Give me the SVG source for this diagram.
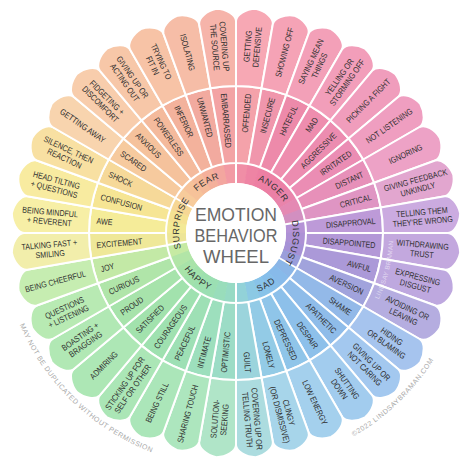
<svg xmlns="http://www.w3.org/2000/svg" width="474" height="469" viewBox="0 0 474 469">
<style>
.t{font-family:"Liberation Sans",Arial,sans-serif;font-size:8.5px;fill:#2f2f2f;text-anchor:middle}
.e{text-anchor:end}
.s{text-anchor:start}
.k{font-family:"Liberation Sans",Arial,sans-serif;font-size:9px;fill:#333;letter-spacing:0.6px;text-anchor:middle}
.h{font-family:"Liberation Sans",Arial,sans-serif;font-size:18px;fill:#676767;text-anchor:middle}
.cr{font-family:"Liberation Sans",Arial,sans-serif;font-size:7px;fill:#a9a9a9;letter-spacing:0.5px}
</style>
<defs>
<path id="c" d="M 231.38 183.21 L 229.53 163.30 A 70 70 0 0 1 242.47 163.30 L 240.62 183.21 A 50 50 0 0 0 231.38 183.21 Z"/>
<path id="m" d="M 229.90 163.27 L 223.19 86.56 A 147 147 0 0 1 248.81 86.56 L 242.10 163.27 A 70 70 0 0 0 229.90 163.27 Z" stroke="#fff" stroke-width="2" stroke-linejoin="round"/>
<path id="o" d="M 223.19 86.56 L 217.52 21.81 C 217.40 15.50 226.00 9.20 236.00 8.00 C 246.00 9.20 254.60 15.50 254.48 21.81 L 248.81 86.56 A 147 147 0 0 0 223.19 86.56 Z" stroke="#fff" stroke-width="2" stroke-linejoin="round"/>
<path id="cw" d="M 195.69 192.69 A 57 57 0 0 1 276.31 192.69"/>
<path id="ccw" d="M 191.45 277.55 A 63 63 0 0 0 280.55 277.55"/>
<path id="crp" d="M 353.5 436.5 A 235 235 0 0 0 435.3 357.5"/>
<path id="dup" d="M 19.7 324.8 A 235 235 0 0 0 159.5 455.2"/>
<path id="wm" d="M 378.7 299.6 A 157.5 157.5 0 0 0 393.3 241.2"/>
</defs>
<rect width="474" height="469" fill="#fff"/>
<g id="core-ring">
<use href="#c" transform="rotate(5 236 233)" fill="#f08ea6"/>
<use href="#c" transform="rotate(15 236 233)" fill="#ee84a4"/>
<use href="#c" transform="rotate(25 236 233)" fill="#ed7fa3"/>
<use href="#c" transform="rotate(35 236 233)" fill="#ec7ea3"/>
<use href="#c" transform="rotate(45 236 233)" fill="#eb80a6"/>
<use href="#c" transform="rotate(55 236 233)" fill="#e984ab"/>
<use href="#c" transform="rotate(65 236 233)" fill="#e489b3"/>
<use href="#c" transform="rotate(75 236 233)" fill="#d28fc0"/>
<use href="#c" transform="rotate(85 236 233)" fill="#b593d6"/>
<use href="#c" transform="rotate(95 236 233)" fill="#ad91d5"/>
<use href="#c" transform="rotate(105 236 233)" fill="#a692d6"/>
<use href="#c" transform="rotate(115 236 233)" fill="#9a9edb"/>
<use href="#c" transform="rotate(125 236 233)" fill="#8bb6e7"/>
<use href="#c" transform="rotate(135 236 233)" fill="#87baea"/>
<use href="#c" transform="rotate(145 236 233)" fill="#86beea"/>
<use href="#c" transform="rotate(155 236 233)" fill="#88c3e9"/>
<use href="#c" transform="rotate(165 236 233)" fill="#8cc9e4"/>
<use href="#c" transform="rotate(175 236 233)" fill="#92d2d8"/>
<use href="#c" transform="rotate(185 236 233)" fill="#97dac4"/>
<use href="#c" transform="rotate(195 236 233)" fill="#99ddbb"/>
<use href="#c" transform="rotate(205 236 233)" fill="#9bdfb3"/>
<use href="#c" transform="rotate(215 236 233)" fill="#9de0ae"/>
<use href="#c" transform="rotate(225 236 233)" fill="#a1e1ab"/>
<use href="#c" transform="rotate(235 236 233)" fill="#a8e3a9"/>
<use href="#c" transform="rotate(245 236 233)" fill="#b2e5a7"/>
<use href="#c" transform="rotate(255 236 233)" fill="#c6eaa3"/>
<use href="#c" transform="rotate(265 236 233)" fill="#ede597"/>
<use href="#c" transform="rotate(275 236 233)" fill="#f3e995"/>
<use href="#c" transform="rotate(285 236 233)" fill="#f5e292"/>
<use href="#c" transform="rotate(295 236 233)" fill="#f6d795"/>
<use href="#c" transform="rotate(305 236 233)" fill="#f7cb9b"/>
<use href="#c" transform="rotate(315 236 233)" fill="#f6c299"/>
<use href="#c" transform="rotate(325 236 233)" fill="#f5ba99"/>
<use href="#c" transform="rotate(335 236 233)" fill="#f4b09b"/>
<use href="#c" transform="rotate(345 236 233)" fill="#f3a69f"/>
<use href="#c" transform="rotate(355 236 233)" fill="#f29aa4"/>
<g stroke="#fff" stroke-width="2">
<line x1="236" y1="184" x2="236" y2="162"/>
<line x1="236" y1="184" x2="236" y2="162" transform="rotate(80 236 233)"/>
<line x1="236" y1="184" x2="236" y2="162" transform="rotate(120 236 233)"/>
<line x1="236" y1="184" x2="236" y2="162" transform="rotate(180 236 233)"/>
<line x1="236" y1="184" x2="236" y2="162" transform="rotate(260 236 233)"/>
<line x1="236" y1="184" x2="236" y2="162" transform="rotate(300 236 233)"/>
</g>
</g>
<g id="middle-ring">
<use href="#m" transform="rotate(5 236 233)" fill="#f4a2aa"/>
<use href="#m" transform="rotate(15 236 233)" fill="#f096ac"/>
<use href="#m" transform="rotate(25 236 233)" fill="#ed8aaa"/>
<use href="#m" transform="rotate(35 236 233)" fill="#ee8dae"/>
<use href="#m" transform="rotate(45 236 233)" fill="#ec8cb0"/>
<use href="#m" transform="rotate(55 236 233)" fill="#eb8db4"/>
<use href="#m" transform="rotate(65 236 233)" fill="#e790b9"/>
<use href="#m" transform="rotate(75 236 233)" fill="#df95c3"/>
<use href="#m" transform="rotate(85 236 233)" fill="#bd9ad8"/>
<use href="#m" transform="rotate(95 236 233)" fill="#b398d7"/>
<use href="#m" transform="rotate(105 236 233)" fill="#ab99d8"/>
<use href="#m" transform="rotate(115 236 233)" fill="#a1a3dc"/>
<use href="#m" transform="rotate(125 236 233)" fill="#93b9e8"/>
<use href="#m" transform="rotate(135 236 233)" fill="#8fbce9"/>
<use href="#m" transform="rotate(145 236 233)" fill="#8dc0ea"/>
<use href="#m" transform="rotate(155 236 233)" fill="#8fc5e9"/>
<use href="#m" transform="rotate(165 236 233)" fill="#93cbe6"/>
<use href="#m" transform="rotate(175 236 233)" fill="#9bd4dc"/>
<use href="#m" transform="rotate(185 236 233)" fill="#9cdcc6"/>
<use href="#m" transform="rotate(195 236 233)" fill="#9ddfbd"/>
<use href="#m" transform="rotate(205 236 233)" fill="#9ee0b5"/>
<use href="#m" transform="rotate(215 236 233)" fill="#9fe1b0"/>
<use href="#m" transform="rotate(225 236 233)" fill="#a2e2ad"/>
<use href="#m" transform="rotate(235 236 233)" fill="#a7e3ab"/>
<use href="#m" transform="rotate(245 236 233)" fill="#b0e5a9"/>
<use href="#m" transform="rotate(255 236 233)" fill="#c3e9a6"/>
<use href="#m" transform="rotate(265 236 233)" fill="#efe899"/>
<use href="#m" transform="rotate(275 236 233)" fill="#f5ec99"/>
<use href="#m" transform="rotate(285 236 233)" fill="#f6e594"/>
<use href="#m" transform="rotate(295 236 233)" fill="#f6d999"/>
<use href="#m" transform="rotate(305 236 233)" fill="#f6ca9e"/>
<use href="#m" transform="rotate(315 236 233)" fill="#f5c29c"/>
<use href="#m" transform="rotate(325 236 233)" fill="#f4ba9c"/>
<use href="#m" transform="rotate(335 236 233)" fill="#f3b29c"/>
<use href="#m" transform="rotate(345 236 233)" fill="#f2aa9f"/>
<use href="#m" transform="rotate(355 236 233)" fill="#f3a3a4"/>
</g>
<g id="outer-ring">
<use href="#o" transform="rotate(5 236 233)" fill="#f7a8b4"/>
<use href="#o" transform="rotate(15 236 233)" fill="#f5a3b6"/>
<use href="#o" transform="rotate(25 236 233)" fill="#f3a0b8"/>
<use href="#o" transform="rotate(35 236 233)" fill="#f29eba"/>
<use href="#o" transform="rotate(45 236 233)" fill="#f09dbc"/>
<use href="#o" transform="rotate(55 236 233)" fill="#ef9ec0"/>
<use href="#o" transform="rotate(65 236 233)" fill="#eda2c6"/>
<use href="#o" transform="rotate(75 236 233)" fill="#e2a6cf"/>
<use href="#o" transform="rotate(85 236 233)" fill="#cbabe0"/>
<use href="#o" transform="rotate(95 236 233)" fill="#c3a8de"/>
<use href="#o" transform="rotate(105 236 233)" fill="#bea8df"/>
<use href="#o" transform="rotate(115 236 233)" fill="#b5ade0"/>
<use href="#o" transform="rotate(125 236 233)" fill="#a6c4ee"/>
<use href="#o" transform="rotate(135 236 233)" fill="#a3c8ef"/>
<use href="#o" transform="rotate(145 236 233)" fill="#a2ccee"/>
<use href="#o" transform="rotate(155 236 233)" fill="#a4d0ed"/>
<use href="#o" transform="rotate(165 236 233)" fill="#a7d5ea"/>
<use href="#o" transform="rotate(175 236 233)" fill="#acdcdf"/>
<use href="#o" transform="rotate(185 236 233)" fill="#b0e5c8"/>
<use href="#o" transform="rotate(195 236 233)" fill="#ade6be"/>
<use href="#o" transform="rotate(205 236 233)" fill="#abe6b9"/>
<use href="#o" transform="rotate(215 236 233)" fill="#abe6b6"/>
<use href="#o" transform="rotate(225 236 233)" fill="#ade7b5"/>
<use href="#o" transform="rotate(235 236 233)" fill="#b1e8b4"/>
<use href="#o" transform="rotate(245 236 233)" fill="#b8eab3"/>
<use href="#o" transform="rotate(255 236 233)" fill="#c6edb1"/>
<use href="#o" transform="rotate(265 236 233)" fill="#f2eeab"/>
<use href="#o" transform="rotate(275 236 233)" fill="#f7efa6"/>
<use href="#o" transform="rotate(285 236 233)" fill="#f8eba0"/>
<use href="#o" transform="rotate(295 236 233)" fill="#f8e0a2"/>
<use href="#o" transform="rotate(305 236 233)" fill="#f8d4ae"/>
<use href="#o" transform="rotate(315 236 233)" fill="#f8cdac"/>
<use href="#o" transform="rotate(325 236 233)" fill="#f7c7a8"/>
<use href="#o" transform="rotate(335 236 233)" fill="#f7c3a6"/>
<use href="#o" transform="rotate(345 236 233)" fill="#f6bda7"/>
<use href="#o" transform="rotate(355 236 233)" fill="#f6b4aa"/>
</g>
<circle id="hub" cx="236" cy="233" r="50" fill="#fff"/>
<g id="title">
<text class="h" x="236" y="221" textLength="82" lengthAdjust="spacingAndGlyphs">EMOTION</text>
<text class="h" x="236" y="242" textLength="83" lengthAdjust="spacingAndGlyphs">BEHAVIOR</text>
<text class="h" x="236" y="263" textLength="66" lengthAdjust="spacingAndGlyphs">WHEEL</text>
</g>
<g id="core-labels">
<text class="k" transform="rotate(40 236 233)"><textPath href="#cw" startOffset="50%">ANGER</textPath></text>
<text class="k" transform="rotate(100 236 233)"><textPath href="#cw" startOffset="50%">DISGUST</textPath></text>
<text class="k" transform="rotate(-30 236 233)"><textPath href="#ccw" startOffset="50%">SAD</textPath></text>
<text class="k" transform="rotate(40 236 233)"><textPath href="#ccw" startOffset="50%">HAPPY</textPath></text>
<text class="k" transform="rotate(280 236 233)"><textPath href="#cw" startOffset="50%">SURPRISE</textPath></text>
<text class="k" transform="rotate(330 236 233)"><textPath href="#cw" startOffset="50%">FEAR</textPath></text>
</g>
<g id="middle-labels">
<text class="t e" y="3" transform="rotate(5 236 233) translate(236 93) rotate(-90) scale(0.84 1)">OFFENDED</text>
<text class="t e" y="3" transform="rotate(15 236 233) translate(236 93) rotate(-90) scale(0.84 1)">INSECURE</text>
<text class="t e" y="3" transform="rotate(25 236 233) translate(236 93) rotate(-90) scale(0.84 1)">HATEFUL</text>
<text class="t e" y="3" transform="rotate(35 236 233) translate(236 93) rotate(-90) scale(0.84 1)">MAD</text>
<text class="t e" y="3" transform="rotate(45 236 233) translate(236 93) rotate(-90) scale(0.84 1)">AGGRESSIVE</text>
<text class="t e" y="3" transform="rotate(55 236 233) translate(236 93) rotate(-90) scale(0.84 1)">IRRITATED</text>
<text class="t e" y="3" transform="rotate(65 236 233) translate(236 93) rotate(-90) scale(0.84 1)">DISTANT</text>
<text class="t e" y="3" transform="rotate(75 236 233) translate(236 93) rotate(-90) scale(0.84 1)">CRITICAL</text>
<text class="t e" y="3" transform="rotate(85 236 233) translate(236 93) rotate(-90) scale(0.84 1)">DISAPPROVAL</text>
<text class="t e" y="3" transform="rotate(95 236 233) translate(236 93) rotate(-90) scale(0.84 1)">DISAPPOINTED</text>
<text class="t e" y="3" transform="rotate(105 236 233) translate(236 93) rotate(-90) scale(0.84 1)">AWFUL</text>
<text class="t e" y="3" transform="rotate(115 236 233) translate(236 93) rotate(-90) scale(0.84 1)">AVERSION</text>
<text class="t e" y="3" transform="rotate(125 236 233) translate(236 93) rotate(-90) scale(0.84 1)">SHAME</text>
<text class="t e" y="3" transform="rotate(135 236 233) translate(236 93) rotate(-90) scale(0.84 1)">APATHETIC</text>
<text class="t e" y="3" transform="rotate(145 236 233) translate(236 93) rotate(-90) scale(0.84 1)">DESPAIR</text>
<text class="t e" y="3" transform="rotate(155 236 233) translate(236 93) rotate(-90) scale(0.84 1)">DEPRESSED</text>
<text class="t e" y="3" transform="rotate(165 236 233) translate(236 93) rotate(-90) scale(0.84 1)">LONELY</text>
<text class="t e" y="3" transform="rotate(175 236 233) translate(236 93) rotate(-90) scale(0.84 1)">GUILT</text>
<text class="t s" y="3" transform="rotate(185 236 233) translate(236 93) rotate(90) scale(0.84 1)">OPTIMISTIC</text>
<text class="t s" y="3" transform="rotate(195 236 233) translate(236 93) rotate(90) scale(0.84 1)">INTIMATE</text>
<text class="t s" y="3" transform="rotate(205 236 233) translate(236 93) rotate(90) scale(0.84 1)">PEACEFUL</text>
<text class="t s" y="3" transform="rotate(215 236 233) translate(236 93) rotate(90) scale(0.84 1)">COURAGEOUS</text>
<text class="t s" y="3" transform="rotate(225 236 233) translate(236 93) rotate(90) scale(0.84 1)">SATISFIED</text>
<text class="t s" y="3" transform="rotate(235 236 233) translate(236 93) rotate(90) scale(0.84 1)">PROUD</text>
<text class="t s" y="3" transform="rotate(245 236 233) translate(236 93) rotate(90) scale(0.84 1)">CURIOUS</text>
<text class="t s" y="3" transform="rotate(255 236 233) translate(236 93) rotate(90) scale(0.84 1)">JOY</text>
<text class="t s" y="3" transform="rotate(265 236 233) translate(236 93) rotate(90) scale(0.84 1)">EXCITEMENT</text>
<text class="t s" y="3" transform="rotate(275 236 233) translate(236 93) rotate(90) scale(0.84 1)">AWE</text>
<text class="t s" y="3" transform="rotate(285 236 233) translate(236 93) rotate(90) scale(0.84 1)">CONFUSION</text>
<text class="t s" y="3" transform="rotate(295 236 233) translate(236 93) rotate(90) scale(0.84 1)">SHOCK</text>
<text class="t s" y="3" transform="rotate(305 236 233) translate(236 93) rotate(90) scale(0.84 1)">SCARED</text>
<text class="t s" y="3" transform="rotate(315 236 233) translate(236 93) rotate(90) scale(0.84 1)">ANXIOUS</text>
<text class="t s" y="3" transform="rotate(325 236 233) translate(236 93) rotate(90) scale(0.84 1)">POWERLESS</text>
<text class="t s" y="3" transform="rotate(335 236 233) translate(236 93) rotate(90) scale(0.84 1)">INFERIOR</text>
<text class="t s" y="3" transform="rotate(345 236 233) translate(236 93) rotate(90) scale(0.84 1)">UNWANTED</text>
<text class="t s" y="3" transform="rotate(355 236 233) translate(236 93) rotate(90) scale(0.84 1)">EMBARRASSED</text>
</g>
<g id="outer-labels">
<text class="t" transform="rotate(5 236 233) translate(236 46) rotate(-90) scale(0.84 1)"><tspan x="0" y="-1.7">GETTING</tspan><tspan x="0" y="7.8">DEFENSIVE</tspan></text>
<text class="t" y="3" transform="rotate(15 236 233) translate(236 46) rotate(-90) scale(0.84 1)">SHOWING OFF</text>
<text class="t" transform="rotate(25 236 233) translate(236 46) rotate(-90) scale(0.84 1)"><tspan x="0" y="-1.7">SAYING MEAN</tspan><tspan x="0" y="7.8">THINGS</tspan></text>
<text class="t" transform="rotate(35 236 233) translate(236 46) rotate(-90) scale(0.84 1)"><tspan x="0" y="-1.7">YELLING OR</tspan><tspan x="0" y="7.8">STORMING OFF</tspan></text>
<text class="t" y="3" transform="rotate(45 236 233) translate(236 46) rotate(-90) scale(0.84 1)">PICKING A FIGHT</text>
<text class="t" y="3" transform="rotate(55 236 233) translate(236 46) rotate(-90) scale(0.84 1)">NOT LISTENING</text>
<text class="t" y="3" transform="rotate(65 236 233) translate(236 46) rotate(-90) scale(0.84 1)">IGNORING</text>
<text class="t" transform="rotate(75 236 233) translate(236 46) rotate(-90) scale(0.84 1)"><tspan x="0" y="-1.7">GIVING FEEDBACK</tspan><tspan x="0" y="7.8">UNKINDLY</tspan></text>
<text class="t" transform="rotate(85 236 233) translate(236 46) rotate(-90) scale(0.84 1)"><tspan x="0" y="-1.7">TELLING THEM</tspan><tspan x="0" y="7.8">THEY'RE WRONG</tspan></text>
<text class="t" transform="rotate(95 236 233) translate(236 46) rotate(-90) scale(0.84 1)"><tspan x="0" y="-1.7">WITHDRAWING</tspan><tspan x="0" y="7.8">TRUST</tspan></text>
<text class="t" transform="rotate(105 236 233) translate(236 46) rotate(-90) scale(0.84 1)"><tspan x="0" y="-1.7">EXPRESSING</tspan><tspan x="0" y="7.8">DISGUST</tspan></text>
<text class="t" transform="rotate(115 236 233) translate(236 46) rotate(-90) scale(0.84 1)"><tspan x="0" y="-1.7">AVOIDING OR</tspan><tspan x="0" y="7.8">LEAVING</tspan></text>
<text class="t" transform="rotate(125 236 233) translate(236 46) rotate(-90) scale(0.84 1)"><tspan x="0" y="-1.7">HIDING</tspan><tspan x="0" y="7.8">OR BLAMING</tspan></text>
<text class="t" transform="rotate(135 236 233) translate(236 46) rotate(-90) scale(0.84 1)"><tspan x="0" y="-1.7">GIVING UP OR</tspan><tspan x="0" y="7.8">NOT CARING</tspan></text>
<text class="t" transform="rotate(145 236 233) translate(236 46) rotate(-90) scale(0.84 1)"><tspan x="0" y="-1.7">SHUTTING</tspan><tspan x="0" y="7.8">DOWN</tspan></text>
<text class="t" y="3" transform="rotate(155 236 233) translate(236 46) rotate(-90) scale(0.84 1)">LOW ENERGY</text>
<text class="t" transform="rotate(165 236 233) translate(236 46) rotate(-90) scale(0.84 1)"><tspan x="0" y="-1.7">CLINGY</tspan><tspan x="0" y="7.8">(OR DISMISSIVE)</tspan></text>
<text class="t" transform="rotate(175 236 233) translate(236 46) rotate(-90) scale(0.84 1)"><tspan x="0" y="-1.7">COVERING UP OR</tspan><tspan x="0" y="7.8">TELLING TRUTH</tspan></text>
<text class="t" transform="rotate(185 236 233) translate(236 46) rotate(90) scale(0.84 1)"><tspan x="0" y="-1.7">SOLUTION-</tspan><tspan x="0" y="7.8">SEEKING</tspan></text>
<text class="t" y="3" transform="rotate(195 236 233) translate(236 46) rotate(90) scale(0.84 1)">SHARING TOUCH</text>
<text class="t" y="3" transform="rotate(205 236 233) translate(236 46) rotate(90) scale(0.84 1)">BEING STILL</text>
<text class="t" transform="rotate(215 236 233) translate(236 46) rotate(90) scale(0.84 1)"><tspan x="0" y="-1.7">STICKING UP FOR</tspan><tspan x="0" y="7.8">SELF OR OTHER</tspan></text>
<text class="t" y="3" transform="rotate(225 236 233) translate(236 46) rotate(90) scale(0.84 1)">ADMIRING</text>
<text class="t" transform="rotate(235 236 233) translate(236 46) rotate(90) scale(0.84 1)"><tspan x="0" y="-1.7">BOASTING +</tspan><tspan x="0" y="7.8">BRAGGING</tspan></text>
<text class="t" transform="rotate(245 236 233) translate(236 46) rotate(90) scale(0.84 1)"><tspan x="0" y="-1.7">QUESTIONS</tspan><tspan x="0" y="7.8">+ LISTENING</tspan></text>
<text class="t" y="3" transform="rotate(255 236 233) translate(236 46) rotate(90) scale(0.84 1)">BEING CHEERFUL</text>
<text class="t" transform="rotate(265 236 233) translate(236 46) rotate(90) scale(0.84 1)"><tspan x="0" y="-1.7">TALKING FAST +</tspan><tspan x="0" y="7.8">SMILING</tspan></text>
<text class="t" transform="rotate(275 236 233) translate(236 46) rotate(90) scale(0.84 1)"><tspan x="0" y="-1.7">BEING MINDFUL</tspan><tspan x="0" y="7.8">+ REVERENT</tspan></text>
<text class="t" transform="rotate(285 236 233) translate(236 46) rotate(90) scale(0.84 1)"><tspan x="0" y="-1.7">HEAD TILTING</tspan><tspan x="0" y="7.8">+ QUESTIONS</tspan></text>
<text class="t" transform="rotate(295 236 233) translate(236 46) rotate(90) scale(0.84 1)"><tspan x="0" y="-1.7">SILENCE, THEN</tspan><tspan x="0" y="7.8">REACTION</tspan></text>
<text class="t" y="3" transform="rotate(305 236 233) translate(236 46) rotate(90) scale(0.84 1)">GETTING AWAY</text>
<text class="t" transform="rotate(315 236 233) translate(236 46) rotate(90) scale(0.84 1)"><tspan x="0" y="-1.7">FIDGETING +</tspan><tspan x="0" y="7.8">DISCOMFORT</tspan></text>
<text class="t" transform="rotate(325 236 233) translate(236 46) rotate(90) scale(0.84 1)"><tspan x="0" y="-1.7">GIVING UP OR</tspan><tspan x="0" y="7.8">ACTING OUT</tspan></text>
<text class="t" transform="rotate(335 236 233) translate(236 46) rotate(90) scale(0.84 1)"><tspan x="0" y="-1.7">TRYING TO</tspan><tspan x="0" y="7.8">FIT IN</tspan></text>
<text class="t" y="3" transform="rotate(345 236 233) translate(236 46) rotate(90) scale(0.84 1)">ISOLATING</text>
<text class="t" transform="rotate(355 236 233) translate(236 46) rotate(90) scale(0.84 1)"><tspan x="0" y="-1.7">COVERING UP</tspan><tspan x="0" y="7.8">THE SOURCE</tspan></text>
</g>
<g id="credits">
<text class="cr"><textPath href="#crp">©2022 LINDSAYBRAMAN.COM</textPath></text>
<text class="cr"><textPath href="#dup">MAY NOT BE DUPLICATED WITHOUT PERMISSION</textPath></text>
<text font-family="Liberation Sans, Arial, sans-serif" font-size="6.5" fill="#ffffff" fill-opacity="0.55" letter-spacing="0.3"><textPath href="#wm">LINDSAY BRAMAN</textPath></text>
</g>
</svg>
